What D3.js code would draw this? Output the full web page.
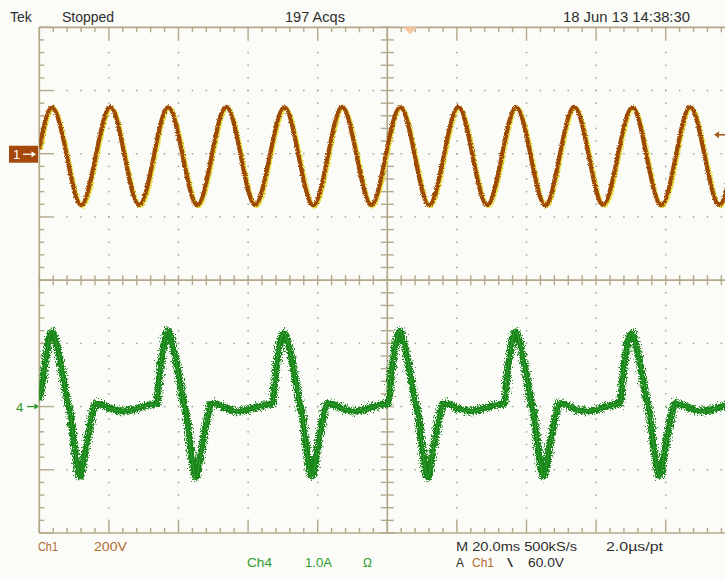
<!DOCTYPE html>
<html><head><meta charset="utf-8">
<script src="https://cdn.jsdelivr.net/npm/d3@7"></script>
<style>html,body{margin:0;padding:0;background:#fbfcf8;}svg{display:block}</style>
</head><body>
<svg id="c" width="725" height="580"></svg>
<script>
// Ch1 (voltage, V) : key points (peaks, troughs, mid crossings), time in ms from left edge
const ch1Time  = [0.0,3.7,7.9,12.0,16.2,20.4,24.5,28.7,32.9,37.0,41.2,45.4,49.5,53.7,57.9,62.0,66.2,70.4,74.5,78.7,82.9,87.0,91.2,95.4,99.5,103.7,107.9,112.0,116.2,120.4,124.5,128.7,132.9,137.0,141.2,145.4,149.5,153.7,157.9,162.0,166.2,170.4,174.5,178.7,182.9,187.0,191.2,195.4,199.5];
const ch1Volts = [15,147,-7,-163,-7,148,-7,-162,-7,147,-7,-163,-7,148,-7,-162,-7,147,-7,-163,-7,148,-7,-162,-7,147,-7,-163,-7,148,-7,-162,-7,147,-7,-163,-7,148,-7,-162,-7,147,-7,-163,-7,148,-7,-162,-7];
// Ch4 (current, A)
const ch4Time = [
  0.0,1.1,2.0,2.8,3.7,5.1,6.6,8.2,8.9,10.0,11.7,13.6,15.3,16.1,18.1,20.9,23.8,26.7,31.0,33.8,
  34.4,35.3,36.1,37.0,38.4,39.9,41.5,42.2,43.3,45.0,46.9,48.6,49.4,51.4,54.2,57.1,60.0,64.3,67.1,
  67.7,68.6,69.4,70.3,71.7,73.2,74.8,75.5,76.6,78.3,80.2,81.9,82.7,84.7,87.5,90.4,93.3,97.6,100.4,
  101.0,101.9,102.7,103.6,105.0,106.5,108.1,108.8,109.9,111.6,113.5,115.2,116.0,118.0,120.8,123.7,126.6,130.9,133.7,
  134.3,135.2,136.0,136.9,138.3,139.8,141.4,142.1,143.2,144.9,146.8,148.5,149.3,151.3,154.1,157.0,159.9,164.2,167.0,
  167.6,168.5,169.3,170.2,171.6,173.1,174.7,175.4,176.5,178.2,180.1,181.8,182.6,184.6,187.4,190.3,193.2,197.5,200.0];
const ch4Amps = [
  0.10,0.45,0.80,1.08,1.18,0.95,0.55,0.05,-0.10,-0.60,-1.10,-0.58,-0.10,0.05,0.03,-0.04,-0.07,-0.05,0.02,0.05,
  0.45,0.80,1.08,1.20,0.95,0.55,0.05,-0.10,-0.60,-1.12,-0.58,-0.10,0.05,0.03,-0.04,-0.07,-0.05,0.02,0.05,
  0.45,0.80,1.08,1.16,0.95,0.55,0.05,-0.10,-0.60,-1.10,-0.58,-0.10,0.05,0.03,-0.04,-0.07,-0.05,0.02,0.05,
  0.45,0.80,1.08,1.20,0.95,0.55,0.05,-0.10,-0.60,-1.12,-0.58,-0.10,0.05,0.03,-0.04,-0.07,-0.05,0.02,0.05,
  0.45,0.80,1.08,1.18,0.95,0.55,0.05,-0.10,-0.60,-1.10,-0.58,-0.10,0.05,0.03,-0.04,-0.07,-0.05,0.02,0.05,
  0.45,0.80,1.08,1.16,0.95,0.55,0.05,-0.10,-0.60,-1.10,-0.58,-0.10,0.05,0.03,-0.04,-0.07,-0.05,0.02,0.04];
const timeDivs = [0,20,40,60,80,100,120,140,160,180,200];   // 20.0 ms/div
const vertDivs = [-4,-3,-2,-1,0,1,2,3,4];
const headerText = ["Tek","Stopped","197 Acqs","18 Jun 13 14:38:30"];
const ch1Settings = ["Ch1","200V"];
const ch4Settings = ["Ch4","1.0A","Ω"];
const timebaseText = ["M 20.0ms 500kS/s","2.0µs/pt"];
const triggerText = ["A","Ch1","\\","60.0V"];
const ch1Offset = 2, ch1Scale = 200;   // divisions, V/div
const ch4Offset = -2, ch4Scale = 1;    // divisions, A/div
const triggerLevel = 60, triggerTime = 106.5;

// ---- drawing ----
const svg = d3.select("#c");
const W = 725, H = 580;
const L = 39.3, T = 27.3, B = 533, R = 735.3;
const x = d3.scaleLinear().domain([0,200]).range([L,R]);
const yDiv = d3.scaleLinear().domain([-4,4]).range([B,T]);
const y1 = d3.scaleLinear().domain([(-4-ch1Offset)*ch1Scale,(4-ch1Offset)*ch1Scale]).range([B,T]);
const y4 = d3.scaleLinear().domain([(-4-ch4Offset)*ch4Scale,(4-ch4Offset)*ch4Scale]).range([B,T]);
const grat = "#b3a88a", dotC = "#a8a396";

svg.append("rect").attr("width",W).attr("height",H).attr("fill","#fbfcf8");

const defs = svg.append("defs");
defs.append("clipPath").attr("id","plot").append("rect").attr("x",L).attr("y",T).attr("width",W-L).attr("height",B-T);
const f = defs.append("filter").attr("id","noise").attr("x","-5%").attr("y","-20%").attr("width","110%").attr("height","140%");
f.append("feTurbulence").attr("type","fractalNoise").attr("baseFrequency","1.1 0.7").attr("numOctaves",2).attr("seed",3).attr("result","t");
f.append("feDisplacementMap").attr("in","SourceGraphic").attr("in2","t").attr("scale",10).attr("xChannelSelector","R").attr("yChannelSelector","G");
const f1 = defs.append("filter").attr("id","noise1").attr("x","-5%").attr("y","-20%").attr("width","110%").attr("height","140%");
f1.append("feTurbulence").attr("type","fractalNoise").attr("baseFrequency","0.9").attr("numOctaves",1).attr("seed",7).attr("result","t");
f1.append("feDisplacementMap").attr("in","SourceGraphic").attr("in2","t").attr("scale",3.5).attr("xChannelSelector","R").attr("yChannelSelector","G");

const g = svg.append("g");
// dotted grid
const minorT = d3.range(0,200.01,4), minorD = d3.range(-4,4.001,0.2);
timeDivs.filter(t=>t>0&&t<200&&t!==100).forEach(t=>{
  g.selectAll(null).data(minorD.filter(d=>d>-3.99&&d<3.99)).enter().append("rect")
   .attr("x",x(t)-0.75).attr("y",d=>yDiv(d)-0.75).attr("width",1.5).attr("height",1.5).attr("fill",dotC);
});
vertDivs.filter(d=>d>-4&&d<4&&d!==0).forEach(d=>{
  g.selectAll(null).data(minorT.filter(t=>t>0.01)).enter().append("rect")
   .attr("x",t=>x(t)-0.75).attr("y",yDiv(d)-0.75).attr("width",1.5).attr("height",1.5).attr("fill",dotC);
});
// frame
g.append("line").attr("x1",L).attr("x2",W).attr("y1",T).attr("y2",T).attr("stroke",grat).attr("stroke-width",1.7);
g.append("line").attr("x1",L).attr("x2",W).attr("y1",B).attr("y2",B).attr("stroke",grat).attr("stroke-width",1.7);
g.append("line").attr("x1",L).attr("x2",L).attr("y1",T).attr("y2",B).attr("stroke",grat).attr("stroke-width",1.7);
const isMajT = t=>Math.abs(t/20-Math.round(t/20))<1e-6;
const isMajD = d=>Math.abs(d-Math.round(d))<1e-6;
g.selectAll(null).data(minorT).enter().append("line")
  .attr("x1",t=>x(t)).attr("x2",t=>x(t)).attr("y1",T).attr("y2",t=>T+(isMajT(t)?12:5)).attr("stroke",grat).attr("stroke-width",1.4);
g.selectAll(null).data(minorT).enter().append("line")
  .attr("x1",t=>x(t)).attr("x2",t=>x(t)).attr("y1",B).attr("y2",t=>B-(isMajT(t)?12:5)).attr("stroke",grat).attr("stroke-width",1.4);
g.selectAll(null).data(minorD).enter().append("line")
  .attr("y1",d=>yDiv(d)).attr("y2",d=>yDiv(d)).attr("x1",L).attr("x2",d=>L+(isMajD(d)?13:5)).attr("stroke",grat).attr("stroke-width",1.4);
// center cross
g.append("line").attr("x1",L).attr("x2",W).attr("y1",yDiv(0)).attr("y2",yDiv(0)).attr("stroke",grat).attr("stroke-width",1.7);
g.append("line").attr("x1",x(100)).attr("x2",x(100)).attr("y1",T).attr("y2",B).attr("stroke",grat).attr("stroke-width",1.7);
g.selectAll(null).data(minorT).enter().append("line")
  .attr("x1",t=>x(t)).attr("x2",t=>x(t)).attr("y1",yDiv(0)-5).attr("y2",yDiv(0)+5).attr("stroke",grat).attr("stroke-width",1.4);
g.selectAll(null).data(minorD).enter().append("line")
  .attr("y1",d=>yDiv(d)).attr("y2",d=>yDiv(d)).attr("x1",x(100)-6.5).attr("x2",x(100)+6.5).attr("stroke",grat).attr("stroke-width",1.4);

// traces
const tr = svg.append("g").attr("clip-path","url(#plot)");
const ch1 = ch1Time.map((t,i)=>[t,ch1Volts[i]]);
const ch4 = ch4Time.map((t,i)=>[t,ch4Amps[i]]);
const l1 = d3.line().x(d=>x(d[0])).y(d=>y1(d[1])).curve(d3.curveNatural);
const l4 = d3.line().x(d=>x(d[0])).y(d=>y4(d[1])).curve(d3.curveMonotoneX);
const g1 = tr.append("g").attr("filter","url(#noise1)");
g1.append("path").attr("d",l1(ch1)).attr("fill","none").attr("stroke","#e4dc3a").attr("stroke-width",4.6).attr("transform","translate(1.1,0.8)");
g1.append("path").attr("d",l1(ch1)).attr("fill","none").attr("stroke","#9e4806").attr("stroke-width",4.2);
const g4 = tr.append("g");
g4.append("path").attr("d",l4(ch4)).attr("fill","none").attr("stroke","#1a881a").attr("stroke-width",7).attr("filter","url(#noise)");
g4.append("path").attr("d",l4(ch4)).attr("fill","none").attr("stroke","#168416").attr("stroke-width",3.6).attr("filter","url(#noise1)");
g4.append("path").attr("d",l4(ch4)).attr("fill","none").attr("stroke","#6ccf6c").attr("stroke-width",0.8).attr("opacity",0.45);

// markers
const tx = x(triggerTime);
svg.append("path").attr("d",`M${tx-7},${T} L${tx+7},${T} L${tx},${T+7} Z`).attr("fill","#f7c6a0");
const ty = y1(triggerLevel);
svg.append("line").attr("x1",716).attr("x2",726).attr("y1",ty).attr("y2",ty).attr("stroke","#a85a20").attr("stroke-width",1.6);
svg.append("path").attr("d",`M714,${ty} L719,${ty-3.5} L719,${ty+3.5} Z`).attr("fill","#a85a20");
const g0 = y1(0);
svg.append("rect").attr("x",9).attr("y",g0-8).attr("width",29).attr("height",17).attr("fill","#a5480c");
svg.append("text").attr("x",13).attr("y",g0+5.5).text("1").attr("fill","#fff").attr("font-family","Liberation Sans, Arial, sans-serif").attr("font-size",13);
svg.append("line").attr("x1",23).attr("x2",33).attr("y1",g0+0.5).attr("y2",g0+0.5).attr("stroke","#fff").attr("stroke-width",1.3);
svg.append("path").attr("d",`M36,${g0+0.5} L31.5,${g0-2.5} L31.5,${g0+3.5} Z`).attr("fill","#fff");
const g4y = y4(0);
svg.append("text").attr("x",16).attr("y",g4y+5).text("4").attr("fill","#2a9a2a").attr("font-family","Liberation Sans, Arial, sans-serif").attr("font-size",13);
svg.append("line").attr("x1",27).attr("x2",36).attr("y1",g4y).attr("y2",g4y).attr("stroke","#2a9a2a").attr("stroke-width",1.3);
svg.append("path").attr("d",`M39,${g4y} L34.5,${g4y-3} L34.5,${g4y+3} Z`).attr("fill","#2a9a2a");

// texts
const font = "Liberation Sans, Arial, sans-serif";
function txt(s,xx,yy,col,size,len){
  const t = svg.append("text").attr("x",xx).attr("y",yy).text(s).attr("fill",col)
    .attr("font-family",font).attr("font-size",size);
  if(len) t.attr("textLength",len).attr("lengthAdjust","spacingAndGlyphs");
  return t;
}
const dark = "#2e2e2e", brown = "#b06a32", green = "#2e9e2e";
txt(headerText[0],10,22,dark,14);
txt(headerText[1],62,22,dark,14);
txt(headerText[2],285,22,dark,14,60);
txt(headerText[3],563,22,dark,14,127);
txt(ch1Settings[0],38,551,brown,12.5,20);
txt(ch1Settings[1],94,551,brown,12.5,33);
txt(ch4Settings[0],247,567,green,12.5,25);
txt(ch4Settings[1],305,567,green,12.5,27);
txt(ch4Settings[2],363,567,green,12.5,9);
txt(timebaseText[0],456,551,dark,12.5,121);
txt(timebaseText[1],606,551,dark,12.5,57);
txt(triggerText[0],456,567,dark,12.5,8);
txt(triggerText[1],472,567,brown,12.5,22);
txt(triggerText[2],507,567,dark,12.5,6);
txt(triggerText[3],528,567,dark,12.5,36);
</script>
</body></html>
